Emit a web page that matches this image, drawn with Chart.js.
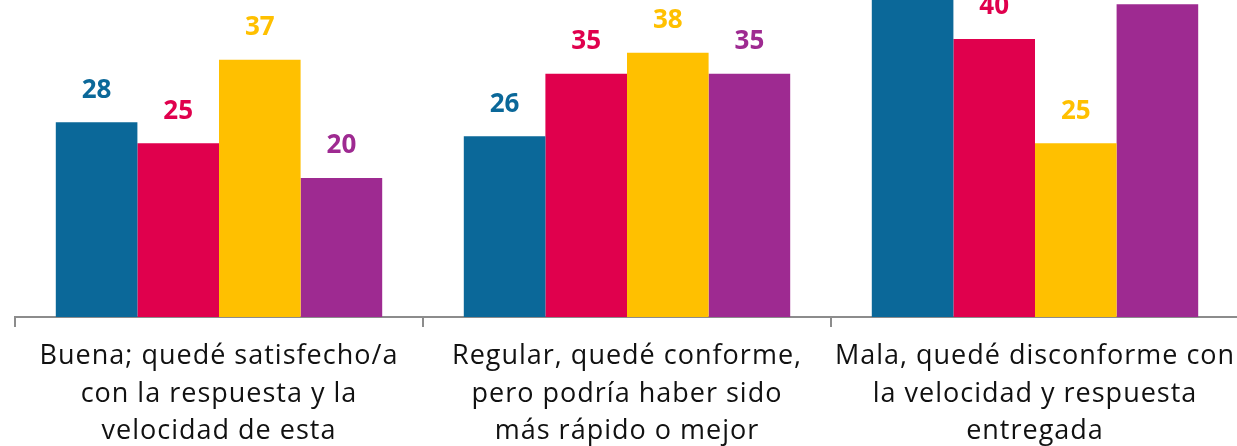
<!DOCTYPE html>
<html>
<head>
<meta charset="utf-8">
<script src="https://cdn.jsdelivr.net/npm/chart.js@4/dist/chart.umd.min.js"></script>
<style>
  html, body { margin: 0; padding: 0; background: #fff; overflow: hidden; }
  #wrap { width: 1239px; height: 446px; position: relative; }
</style>
</head>
<body>
<div id="wrap"><canvas id="chart"></canvas></div>
<script>
const categories = [
    ['Buena; quedé satisfecho/a', 'con la respuesta y la', 'velocidad de esta'],
    ['Regular, quedé conforme,', 'pero podría haber sido', 'más rápido o mejor'],
    ['Mala, quedé disconforme con', 'la velocidad y respuesta', 'entregada']
];
const seriesNames = ['Serie 1', 'Serie 2', 'Serie 3', 'Serie 4'];
const serie1 = [28, 26, 46];
const serie2 = [25, 35, 40];
const serie3 = [37, 38, 25];
const serie4 = [20, 35, 45];
const colors = ['#0b6899', '#e0004d', '#ffc000', '#9e2a91'];

const FONT = "'Open Sans', sans-serif";

// the original font is wider, so spread the letters a little
const spacing = {
    id: 'spacing',
    beforeDraw(chart) {
        chart.ctx.letterSpacing = '1px';
    }
};

// draws the value above each bar
const valueLabels = {
    id: 'valueLabels',
    afterDatasetsDraw(chart) {
        const ctx = chart.ctx;
        ctx.save();
        ctx.letterSpacing = '0px';
        ctx.font = 'bold 26px ' + FONT;
        ctx.textAlign = 'center';
        ctx.textBaseline = 'middle';
        chart.data.datasets.forEach((ds, i) => {
            const meta = chart.getDatasetMeta(i);
            ctx.fillStyle = ds.backgroundColor;
            meta.data.forEach((bar, j) => {
                ctx.fillText(ds.data[j], bar.x, bar.y - 32);
            });
        });
        ctx.restore();
    }
};

new Chart(document.getElementById('chart'), {
    type: 'bar',
    data: {
        labels: categories,
        datasets: [serie1, serie2, serie3, serie4].map((d, i) => ({
            label: seriesNames[i],
            data: d,
            backgroundColor: colors[i],
            categoryPercentage: 0.8,
            barPercentage: 1.0
        }))
    },
    options: {
        responsive: true,
        maintainAspectRatio: false,
        animation: false,
        layout: { padding: { left: 15, right: 0, top: 0, bottom: 0 } },
        plugins: {
            legend: { display: false },
            tooltip: { enabled: false }
        },
        scales: {
            x: {
                afterFit(scale) { scale.height = 129; },
                grid: {
                    offset: true,
                    drawOnChartArea: false,
                    tickLength: 10,
                    color: '#8c8c8c',
                    lineWidth: 2
                },
                border: { color: '#8c8c8c', width: 2 },
                ticks: {
                    color: '#111',
                    padding: 11,
                    font: { family: FONT, size: 27, lineHeight: 1.38 },
                    maxRotation: 0,
                    autoSkip: false
                }
            },
            y: {
                display: false,
                min: 0,
                max: 45.6
            }
        }
    },
    plugins: [spacing, valueLabels]
});
</script>
</body>
</html>
